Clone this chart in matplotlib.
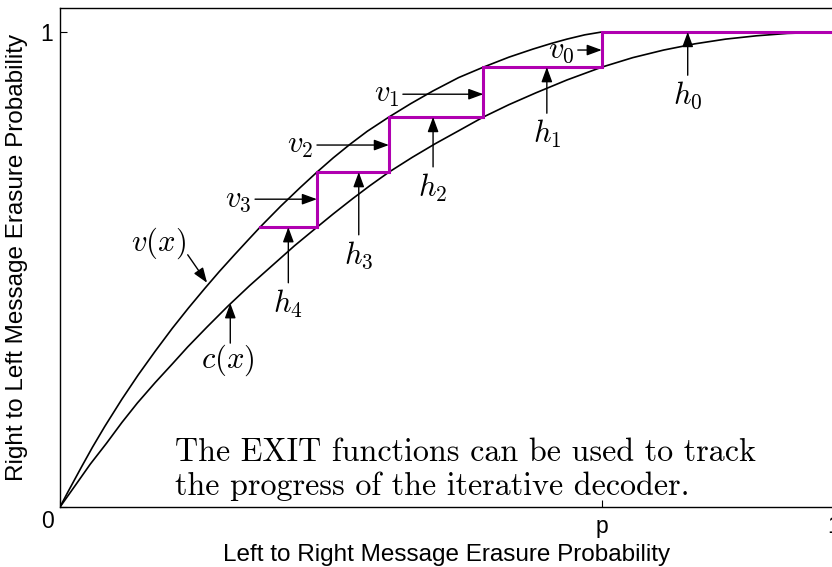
import numpy as np
import matplotlib
matplotlib.use("Agg")
import matplotlib.pyplot as plt
import matplotlib.transforms as mtrans

plt.rcParams['mathtext.fontset'] = 'cm'
plt.rcParams['font.family'] = ['Liberation Sans', 'DejaVu Sans']

p = 0.7

# variable node curve v(x)
v_x = [0, 0.010, 0.028, 0.042, 0.058, 0.080, 0.101, 0.123, 0.145, 0.166,
       0.187, 0.206, 0.226, 0.243, 0.259, 0.285, 0.310, 0.332, 0.353, 0.375,
       0.397, 0.425, 0.453, 0.482, 0.515, 0.547, 0.580, 0.611, 0.635, 0.655,
       0.678, 0.700]
v_y = [0, 0.031, 0.085, 0.126, 0.170, 0.227, 0.278, 0.328, 0.376, 0.419,
       0.460, 0.496, 0.532, 0.562, 0.590, 0.633, 0.672, 0.705, 0.735, 0.764,
       0.791, 0.821, 0.849, 0.876, 0.904, 0.926, 0.947, 0.964, 0.976, 0.985,
       0.994, 1.000]

# check node curve c(x)
c_x = [0, 0.020, 0.039, 0.060, 0.080, 0.100, 0.123, 0.145, 0.165, 0.190,
       0.217, 0.245, 0.274, 0.303, 0.332, 0.353, 0.378, 0.400, 0.425, 0.455,
       0.485, 0.515, 0.547, 0.580, 0.615, 0.655, 0.700, 0.740, 0.780, 0.820,
       0.860, 0.900, 0.940, 1.000]
c_y = [0, 0.046, 0.090, 0.134, 0.178, 0.219, 0.262, 0.301, 0.337, 0.379,
       0.423, 0.466, 0.508, 0.550, 0.589, 0.617, 0.649, 0.676, 0.705, 0.736,
       0.765, 0.792, 0.821, 0.847, 0.872, 0.899, 0.926, 0.946, 0.962, 0.975,
       0.985, 0.992, 0.997, 1.000]

# decoder iterates: x_k (left->right) and h_k (right->left)
x_iter = [0.700, 0.547, 0.425, 0.332, 0.259]
h_iter = [1.000, 0.926, 0.821, 0.705, 0.589]

# staircase path
sx, sy = [1.0], [h_iter[0]]
for k in range(len(x_iter)):
    sx.append(x_iter[k]); sy.append(h_iter[k])
    if k + 1 < len(h_iter):
        sx.append(x_iter[k]); sy.append(h_iter[k + 1])

fig = plt.figure(figsize=(8.32, 5.67), dpi=100)
ax = fig.add_axes([60/832, 60/567, 774/832, 499/567])

ax.plot(v_x, v_y, color='k', lw=1.2)
ax.plot(c_x, c_y, color='k', lw=1.2)
ax.plot(sx, sy, color='#b000b0', lw=2.2, solid_joinstyle='miter')

ax.set_xlim(0, 1)
ax.set_ylim(0, 1.0505)
ax.set_xticks([0, p, 1])
ax.set_xticklabels(['', 'p', '1'])
ax.set_yticks([0, 1])
ax.set_yticklabels(['', '1'])
ax.tick_params(direction='in', length=5, width=0.8, labelsize=16.5)
ax.tick_params(axis='x', pad=6)
ax.tick_params(axis='y', pad=5)
ax.text(0, 0, '0', fontsize=16.5, ha='center', va='center',
        transform=ax.transData + mtrans.ScaledTranslation(-12/100, -14/100, fig.dpi_scale_trans))
for s in ax.spines.values():
    s.set_linewidth(1.0)

ax.set_xlabel('Left to Right Message Erasure Probability', fontsize=17.5, va='center')
ax.xaxis.set_label_coords(0.5, -0.096)
ax.set_ylabel('Right to Left Message Erasure Probability', fontsize=17.5, va='center')
ax.yaxis.set_label_coords(-0.0556, 0.5)

arrow = dict(arrowstyle='-|>,head_length=0.9,head_width=0.33', color='k', lw=1.0,
             shrinkA=0, shrinkB=0)
fs = 22

# v_k arrows pointing right at the vertical steps
v_tails = [(0.669, 0.962), (0.443, 0.869), (0.332, 0.762), (0.252, 0.648)]
for k, (tx, ty) in enumerate(v_tails):
    ax.annotate('', xy=(x_iter[k], ty), xytext=(tx, ty), arrowprops=arrow)
    ax.text(tx - 0.004, ty, r'$v_{%d}$' % k, fontsize=fs, ha='right', va='center')

# h_k arrows pointing up at the horizontal steps
h_tails = [(0.811, 0.909), (0.629, 0.829), (0.482, 0.716), (0.386, 0.573), (0.295, 0.472)]
for k, (tx, ty) in enumerate(h_tails):
    ax.annotate('', xy=(tx, h_iter[k]), xytext=(tx, ty), arrowprops=arrow)
    ax.text(tx, ty - 0.010, r'$h_{%d}$' % k, fontsize=fs, ha='center', va='top')

ax.annotate('', xy=(0.190, 0.472), xytext=(0.165, 0.531), arrowprops=arrow)
ax.text(0.127, 0.556, r'$v(x)$', fontsize=fs, ha='center', va='center')
ax.annotate('', xy=(0.220, 0.429), xytext=(0.220, 0.345), arrowprops=arrow)
ax.text(0.217, 0.309, r'$c(x)$', fontsize=fs, ha='center', va='center')

ax.text(0.149, 0.114, 'The EXIT functions can be used to track',
        fontfamily='cmr10', fontsize=23.1, ha='left', va='center')
ax.text(0.149, 0.044, 'the progress of the iterative decoder.',
        fontfamily='cmr10', fontsize=23.1, ha='left', va='center')

fig.savefig('out.png', dpi=100)
